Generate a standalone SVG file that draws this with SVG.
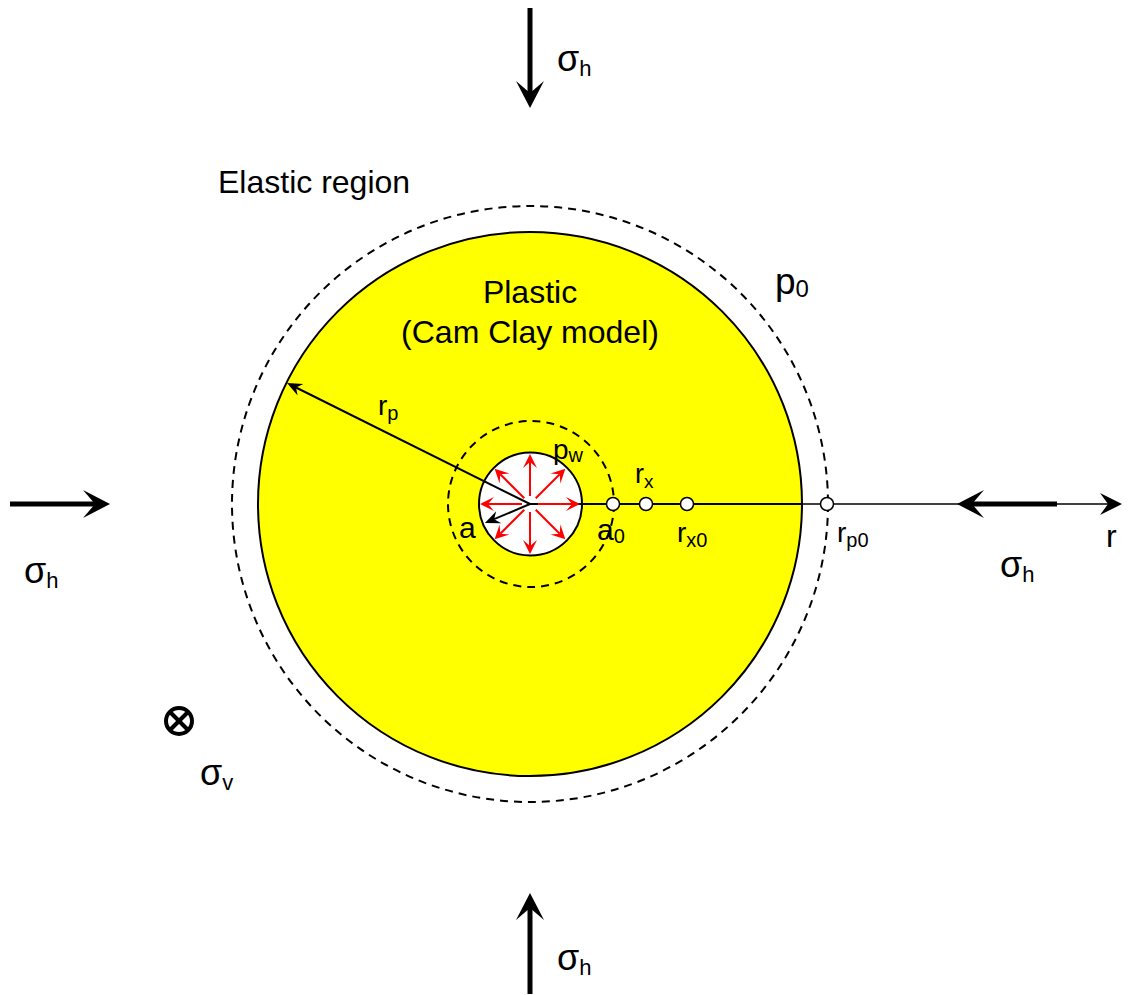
<svg xmlns="http://www.w3.org/2000/svg" width="1128" height="995" viewBox="0 0 1128 995">
<style>
text{font-family:"Liberation Sans",Arial,sans-serif;fill:#000}
.lab{font-size:32px}
.sig{font-size:36px}
.sub{font-size:22px}
.dash{fill:none;stroke:#000;stroke-width:2;stroke-dasharray:8,6}
.red{stroke:#f00;stroke-width:2;fill:none}
.pt{fill:#fff;stroke:#000;stroke-width:1.5}
.force{stroke:#000;stroke-width:5;fill:none}
</style>
<defs>
<marker id="big" markerUnits="userSpaceOnUse" orient="auto" refX="0" refY="0" markerWidth="40" markerHeight="40" overflow="visible">
<path d="M15,0 L-12,-14 L0,0 L-12,14 Z" fill="#000"/>
</marker>
<marker id="redh" markerUnits="userSpaceOnUse" orient="auto" refX="0" refY="0" markerWidth="20" markerHeight="20" overflow="visible">
<path d="M8,0 L-6,-7 L0,0 L-6,7 Z" fill="#f00"/>
</marker>
<marker id="blk" markerUnits="userSpaceOnUse" orient="auto" refX="0" refY="0" markerWidth="20" markerHeight="20" overflow="visible">
<path d="M10,0 L-5,-6.5 L0,0 L-5,6.5 Z" fill="#000"/>
</marker>
<marker id="axis" markerUnits="userSpaceOnUse" orient="auto" refX="0" refY="0" markerWidth="30" markerHeight="30" overflow="visible">
<path d="M14,0 L-8,-11 L0,0 L-8,11 Z" fill="#000"/>
</marker>
</defs>
<rect width="1128" height="995" fill="#fff"/>

<g id="elastic-region">
<circle cx="530" cy="504" r="298" class="dash"/>
</g>
<g id="plastic-region">
<circle cx="530" cy="504" r="272" fill="#ff0" stroke="#000" stroke-width="2"/>
</g>
<g id="a0-circle">
<circle cx="531" cy="504" r="83" class="dash"/>
</g>
<g id="cavity">
<circle cx="530.5" cy="504" r="51.5" fill="#fff" stroke="#000" stroke-width="2"/>
</g>

<g id="connectors">
<line x1="530" y1="504" x2="802" y2="504" stroke="#000" stroke-width="2"/>
<line x1="802" y1="504" x2="1108" y2="504" stroke="#000" stroke-width="1.5" marker-end="url(#axis)"/>
<line x1="530" y1="504" x2="296" y2="387.5" stroke="#000" stroke-width="2" marker-end="url(#blk)"/>
<line x1="530" y1="504" x2="494.1" y2="519.2" stroke="#000" stroke-width="2" marker-end="url(#blk)"/>
<g id="pressure-arrows">
<line x1="538" y1="504" x2="572" y2="504" class="red" marker-end="url(#redh)"/>
<line x1="522" y1="504" x2="488" y2="504" class="red" marker-end="url(#redh)"/>
<line x1="530" y1="496" x2="530" y2="462" class="red" marker-end="url(#redh)"/>
<line x1="530" y1="512" x2="530" y2="546" class="red" marker-end="url(#redh)"/>
<line x1="535.7" y1="498.3" x2="559.7" y2="474.3" class="red" marker-end="url(#redh)"/>
<line x1="524.3" y1="498.3" x2="500.3" y2="474.3" class="red" marker-end="url(#redh)"/>
<line x1="535.7" y1="509.7" x2="559.7" y2="533.7" class="red" marker-end="url(#redh)"/>
<line x1="524.3" y1="509.7" x2="500.3" y2="533.7" class="red" marker-end="url(#redh)"/>
</g>
<g id="far-field-stress">
<line x1="530" y1="8" x2="530" y2="93" class="force" marker-end="url(#big)"/>
<line x1="530" y1="994" x2="530" y2="908" class="force" marker-end="url(#big)"/>
<line x1="10" y1="504" x2="95" y2="504" class="force" marker-end="url(#big)"/>
<line x1="1057" y1="504" x2="972" y2="504" class="force" marker-end="url(#big)"/>
</g>
</g>

<g id="points">
<circle cx="613" cy="504" r="6.5" class="pt"/>
<circle cx="646" cy="504" r="6.5" class="pt"/>
<circle cx="687" cy="504" r="6.5" class="pt"/>
<circle cx="827" cy="504" r="6.5" class="pt"/>
</g>

<g id="sigma-v-symbol">
<circle cx="179" cy="721" r="13" fill="none" stroke="#000" stroke-width="4"/>
<line x1="170" y1="712" x2="188" y2="730" stroke="#000" stroke-width="4"/>
<line x1="188" y1="712" x2="170" y2="730" stroke="#000" stroke-width="4"/>
</g>

<g id="labels">
<text class="lab" x="218" y="193">Elastic region</text>
<text class="lab" x="530" y="303" text-anchor="middle">Plastic</text>
<text class="lab" x="530" y="343" text-anchor="middle">(Cam Clay model)</text>
<text x="775" y="294" font-size="37">p<tspan font-size="24" dy="3">0</tspan></text>
<text x="378" y="415" font-size="28">r<tspan font-size="20" dy="5">p</tspan></text>
<text x="553" y="459" font-size="28">p<tspan font-size="20" dy="3">w</tspan></text>
<text x="635" y="483" font-size="27">r<tspan font-size="19" dy="5">x</tspan></text>
<text x="459" y="538" font-size="30">a</text>
<text x="597" y="540" font-size="30">a<tspan font-size="20" dy="3">0</tspan></text>
<text x="677" y="542" font-size="28">r<tspan font-size="20" dy="5">x0</tspan></text>
<text x="837" y="542" font-size="28">r<tspan font-size="20" dy="5">p0</tspan></text>
<text x="1106" y="547" font-size="32">r</text>
<text class="sig" x="557" y="71">σ<tspan class="sub" dy="5">h</tspan></text>
<text class="sig" x="24" y="583">σ<tspan class="sub" dy="5">h</tspan></text>
<text class="sig" x="1000" y="577">σ<tspan class="sub" dy="5">h</tspan></text>
<text class="sig" x="557" y="970">σ<tspan class="sub" dy="5">h</tspan></text>
<text class="sig" x="200" y="785">σ<tspan class="sub" dy="5">v</tspan></text>
</g>
</svg>
